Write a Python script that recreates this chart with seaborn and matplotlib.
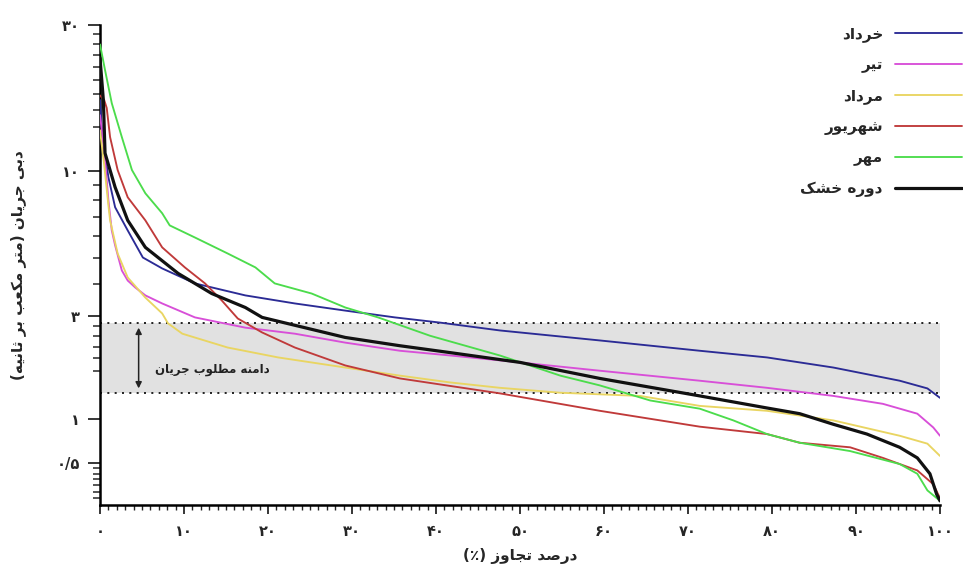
import numpy as np
import pandas as pd
import matplotlib
matplotlib.use("Agg")
import matplotlib.pyplot as plt
import seaborn as sns

# ---------------- data ----------------
khordad_x = [0, 0.25, 1.0, 1.8, 3.3, 5.1, 7.4, 11.3, 17.3, 23.2, 29.2, 35.1, 40.5, 47.6, 59.5, 71.4, 79.4, 87.3, 95.2, 98.5, 100]
khordad_y = [17.2, 13.4, 9.54, 7.54, 6.26, 5.01, 4.57, 4.02, 3.62, 3.37, 3.16, 2.97, 2.83, 2.63, 2.39, 2.16, 2.02, 1.82, 1.58, 1.45, 1.30]

tir_x = [0, 0.5, 1.0, 1.4, 1.8, 2.6, 3.3, 4.2, 5.4, 7.4, 11.3, 17.3, 23.2, 29.2, 35.7, 41.7, 47.6, 59.5, 71.4, 79.4, 87.3, 93.2, 97.3, 99.2, 100]
tir_y = [15.35, 11.8, 7.97, 6.26, 5.54, 4.49, 4.12, 3.88, 3.62, 3.37, 2.97, 2.70, 2.55, 2.34, 2.16, 2.06, 1.96, 1.76, 1.58, 1.46, 1.33, 1.21, 1.07, 0.89, 0.79]

mordad_x = [0, 0.5, 1.0, 1.2, 2.1, 3.3, 5.4, 7.4, 8.1, 9.8, 15.2, 21.2, 29.2, 35.7, 41.7, 47.6, 54.8, 64.3, 71.4, 79.4, 87.3, 95.2, 98.5, 100]
mordad_y = [13.7, 10.5, 7.66, 6.79, 5.18, 4.23, 3.55, 3.08, 2.81, 2.55, 2.23, 2.02, 1.82, 1.67, 1.55, 1.46, 1.38, 1.33, 1.18, 1.11, 0.98, 0.79, 0.70, 0.57]

shahrivar_x = [0, 0.5, 0.8, 1.2, 2.1, 3.3, 5.4, 7.4, 10.1, 12.5, 14.5, 16.4, 19.3, 23.2, 29.2, 35.7, 47.6, 59.5, 71.4, 79.4, 83.3, 89.3, 93.2, 97.3, 99.2, 100]
shahrivar_y = [17.8, 17.2, 16.2, 13.0, 10.1, 8.16, 6.79, 5.45, 4.61, 4.02, 3.46, 2.94, 2.58, 2.23, 1.86, 1.62, 1.37, 1.11, 0.90, 0.81, 0.71, 0.66, 0.55, 0.43, 0.31, 0.20]

mehr_x = [0, 0.6, 1.4, 2.6, 3.8, 5.4, 7.4, 8.3, 11.3, 15.2, 18.5, 20.8, 25.2, 29.2, 33.1, 39.3, 47.6, 54.8, 59.5, 65.5, 71.4, 75.4, 79.4, 83.3, 89.3, 95.2, 97.3, 98.5, 100]
mehr_y = [26.0, 21.5, 16.8, 13.0, 10.1, 8.42, 7.19, 6.52, 5.91, 5.18, 4.61, 4.02, 3.68, 3.25, 2.97, 2.50, 2.06, 1.67, 1.50, 1.26, 1.14, 0.98, 0.81, 0.71, 0.62, 0.49, 0.40, 0.26, 0.18]

dry_x = [0, 0.4, 0.6, 1.8, 3.3, 5.4, 9.3, 13.3, 17.3, 19.3, 29.2, 35.7, 41.7, 50.0, 59.5, 71.4, 79.4, 83.3, 87.3, 91.3, 95.2, 97.3, 98.8, 99.6, 100]
dry_y = [23.5, 17.2, 11.5, 8.83, 6.79, 5.45, 4.38, 3.68, 3.25, 2.97, 2.46, 2.27, 2.12, 1.92, 1.62, 1.33, 1.15, 1.07, 0.93, 0.81, 0.66, 0.55, 0.40, 0.23, 0.18]

series_names = ["خرداد", "تیر", "مرداد", "شهریور", "مهر", "دوره خشک"]
series_colors = ["#2b2b95", "#d84fd8", "#e9d562", "#c03a3a", "#4cdc4c", "#111111"]

band_low, band_high = 1.38, 2.81

x_ticks = [0, 10, 20, 30, 40, 50, 60, 70, 80, 90, 100]
x_tick_labels = ["۰", "۱۰", "۲۰", "۳۰", "۴۰", "۵۰", "۶۰", "۷۰", "۸۰", "۹۰", "۱۰۰"]
y_ticks = [0.5, 1, 3, 10, 30]
y_tick_labels = ["۰/۵", "۱", "۳", "۱۰", "۳۰"]
y_minor = [0.2, 0.25, 0.3, 0.35, 0.4, 0.45, 1.75, 2.0, 2.25, 2.5, 2.75,
           4, 5, 6, 7, 8, 9, 14, 16, 18, 20, 22, 24, 26, 28]

x_label = "درصد تجاوز (٪)"
y_label = "دبی جریان (متر مکعب بر ثانیه)"
band_label = "دامنه مطلوب جریان"

# ---------------- Persian shaping (presentation forms + visual order) ----------------
FORMS = {
    'ا': ('\uFE8D', '\uFE8E', None, None),
    'ب': ('\uFE8F', '\uFE90', '\uFE91', '\uFE92'),
    'ت': ('\uFE95', '\uFE96', '\uFE97', '\uFE98'),
    'ث': ('\uFE99', '\uFE9A', '\uFE9B', '\uFE9C'),
    'ج': ('\uFE9D', '\uFE9E', '\uFE9F', '\uFEA0'),
    'خ': ('\uFEA5', '\uFEA6', '\uFEA7', '\uFEA8'),
    'د': ('\uFEA9', '\uFEAA', None, None),
    'ر': ('\uFEAD', '\uFEAE', None, None),
    'ز': ('\uFEAF', '\uFEB0', None, None),
    'ش': ('\uFEB5', '\uFEB6', '\uFEB7', '\uFEB8'),
    'ص': ('\uFEB9', '\uFEBA', '\uFEBB', '\uFEBC'),
    'ط': ('\uFEC1', '\uFEC2', '\uFEC3', '\uFEC4'),
    'ع': ('\uFEC9', '\uFECA', '\uFECB', '\uFECC'),
    'ل': ('\uFEDD', '\uFEDE', '\uFEDF', '\uFEE0'),
    'م': ('\uFEE1', '\uFEE2', '\uFEE3', '\uFEE4'),
    'ن': ('\uFEE5', '\uFEE6', '\uFEE7', '\uFEE8'),
    'ه': ('\uFEE9', '\uFEEA', '\uFEEB', '\uFEEC'),
    'و': ('\uFEED', '\uFEEE', None, None),
    'ی': ('\uFBFC', '\uFBFD', '\uFBFE', '\uFBFF'),
    'ک': ('\uFB8E', '\uFB8F', '\uFB90', '\uFB91'),
}


def fa(s):
    out = []
    n = len(s)
    for i, ch in enumerate(s):
        f = FORMS.get(ch)
        if f is None:
            out.append(ch)
            continue
        prev = s[i - 1] if i > 0 else None
        nxt = s[i + 1] if i < n - 1 else None
        jp = prev in FORMS and FORMS[prev][2] is not None
        jn = f[2] is not None and nxt in FORMS
        if jp and jn:
            out.append(f[3])
        elif jp:
            out.append(f[1])
        elif jn:
            out.append(f[2])
        else:
            out.append(f[0])
    vis = ''.join(reversed(out))
    return vis.translate(str.maketrans('()', ')('))


# ---------------- plotting ----------------
sns.set_theme(style="white")
plt.rcParams['font.family'] = ['DejaVu Sans']
plt.rcParams['font.weight'] = 'bold'

fig = plt.figure(figsize=(9.63, 5.71), dpi=100)
ax = fig.add_axes([100 / 963, 66 / 571, 840 / 963, 480 / 571])

C = 0.85
ax.set_yscale('function', functions=(lambda y: np.log10(np.maximum(y + C, 1e-9)),
                                     lambda t: 10 ** t - C))

ax.axhspan(band_low, band_high, color="#e1e1e1", zorder=0, lw=0)
for v in (band_low, band_high):
    ax.axhline(v, color="black", lw=1.2, ls=(0, (1.2, 3.2)), zorder=1)

all_x = [khordad_x, tir_x, mordad_x, shahrivar_x, mehr_x, dry_x]
all_y = [khordad_y, tir_y, mordad_y, shahrivar_y, mehr_y, dry_y]
for xs, ys, name, col in zip(all_x, all_y, series_names, series_colors):
    df = pd.DataFrame({"x": xs, "y": ys})
    lw = 2.3 if name == "دوره خشک" else 1.35
    sns.lineplot(data=df, x="x", y="y", ax=ax, color=col, lw=lw,
                 estimator=None, sort=False, label=fa(name), zorder=3)

ax.annotate('', xy=(4.6, 2.70), xytext=(4.6, 1.45),
            arrowprops=dict(arrowstyle='<|-|>', color='#222222', lw=1.1,
                            mutation_scale=9, shrinkA=0, shrinkB=0), zorder=4)
ax.text(6.5, 1.78, fa(band_label), fontsize=8.5, fontweight='bold',
        ha='left', va='center', color='#222222', zorder=4)

ax.set_xlim(0, 100)
ax.set_ylim(0.15, 30)
ax.set_xticks(x_ticks)
ax.set_xticklabels(x_tick_labels, fontsize=10.5, fontweight='bold')
ax.set_xticks(np.arange(0, 101, 1), minor=True)
ax.set_yticks(y_ticks)
ax.set_yticklabels(y_tick_labels, fontsize=10.5, fontweight='bold')
ax.set_yticks(y_minor, minor=True)
ax.yaxis.set_minor_formatter(matplotlib.ticker.NullFormatter())

ax.tick_params(axis='x', which='major', direction='out', length=6.5, width=1.3, pad=7, bottom=True)
ax.tick_params(axis='x', which='minor', direction='out', length=3.5, width=1.0, bottom=True)
ax.tick_params(axis='y', which='major', direction='out', length=8.5, width=1.3, pad=6, left=True)
ax.tick_params(axis='y', which='minor', direction='out', length=5, width=1.1, left=True)

for s in ('top', 'right'):
    ax.spines[s].set_visible(False)
for s in ('left', 'bottom'):
    ax.spines[s].set_color('black')
    ax.spines[s].set_linewidth(1.8)

ax.set_xlabel(fa(x_label), fontsize=11, fontweight='bold')
ax.set_ylabel(fa(y_label), fontsize=11, fontweight='bold')
ax.xaxis.set_label_coords(0.5, -0.09)
ax.yaxis.set_label_coords(-0.088, 0.5)

leg = ax.legend(loc='upper right', bbox_to_anchor=(1.012, 0.975), bbox_transform=fig.transFigure,
                frameon=False, markerfirst=False, fontsize=11, handlelength=4.4,
                handletextpad=0.8, labelspacing=0.98, borderpad=0.3)
for t in leg.get_texts():
    t.set_fontweight('bold')

fig.savefig("out.png", dpi=100)
